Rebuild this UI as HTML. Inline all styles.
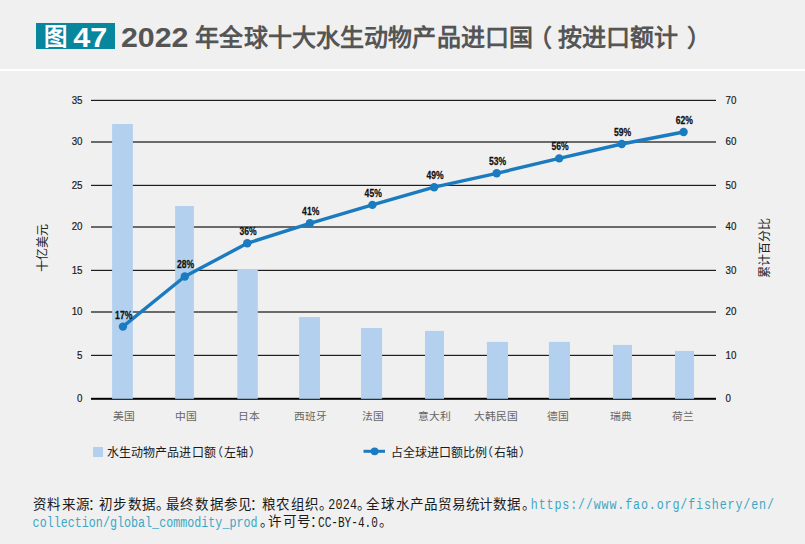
<!DOCTYPE html>
<html lang="zh-CN"><head><meta charset="utf-8"><style>
html,body{margin:0;padding:0;background:#f0f0f0;width:805px;height:544px;overflow:hidden}
svg{display:block;font-family:"Liberation Sans",sans-serif}
</style></head><body>
<svg width="805" height="544" viewBox="0 0 805 544">
<g id="bg">
<rect x="0" y="0" width="805" height="544" fill="#f0f0f0"/>
</g>
<g id="title">
<rect x="36" y="23" width="79" height="26" fill="#07879e"/>
<text x="43.6" y="44.9" font-size="23.4" font-weight="bold" fill="#fff">图</text>
<text x="73.2" y="46.5" font-size="28.5" font-weight="bold" fill="#fff" textLength="34" lengthAdjust="spacingAndGlyphs">47</text>
<text x="121" y="46.9" font-size="27.8" font-weight="bold" fill="#555" textLength="67.5" lengthAdjust="spacingAndGlyphs">2022</text>
<text x="195.30 219.42 243.54 267.66 291.78 315.90 340.02 364.14 388.26 412.38 436.50 460.62 484.74 508.86" y="45.5" font-size="24" font-weight="bold" fill="#555">年全球十大水生动物产品进口国</text>
<text x="528" y="45.5" font-size="24" font-weight="bold" fill="#555">（</text>
<text x="557.70 581.78 605.86 629.94 654.02" y="45.5" font-size="24" font-weight="bold" fill="#555">按进口额计</text>
<text x="687" y="45.5" font-size="24" font-weight="bold" fill="#555">）</text>
<rect x="0" y="69" width="805" height="2" fill="#ffffff"/>
</g>
<g id="grid">
<rect x="91" y="99.80" width="625" height="1.2" fill="#1e1e1e"/>
<rect x="91" y="141.00" width="625" height="2" fill="#6a6a6a"/>
<rect x="91" y="184.80" width="625" height="1.2" fill="#1e1e1e"/>
<rect x="91" y="226.00" width="625" height="2" fill="#6a6a6a"/>
<rect x="91" y="269.80" width="625" height="1.2" fill="#1e1e1e"/>
<rect x="91" y="311.00" width="625" height="2" fill="#6a6a6a"/>
<rect x="91" y="354.80" width="625" height="1.2" fill="#1e1e1e"/>
<rect x="91" y="397.8" width="625" height="2" fill="#000"/>
</g>
<g id="ticks">
<text x="82.5" y="103.6" font-size="11.5" fill="#1a1a1a" stroke="#1a1a1a" stroke-width="0.2" text-anchor="end" transform="translate(82.5 0) scale(0.85 1) translate(-82.5 0)">35</text>
<text x="82.5" y="145.2" font-size="11.5" fill="#1a1a1a" stroke="#1a1a1a" stroke-width="0.2" text-anchor="end" transform="translate(82.5 0) scale(0.85 1) translate(-82.5 0)">30</text>
<text x="82.5" y="188.6" font-size="11.5" fill="#1a1a1a" stroke="#1a1a1a" stroke-width="0.2" text-anchor="end" transform="translate(82.5 0) scale(0.85 1) translate(-82.5 0)">25</text>
<text x="82.5" y="230.2" font-size="11.5" fill="#1a1a1a" stroke="#1a1a1a" stroke-width="0.2" text-anchor="end" transform="translate(82.5 0) scale(0.85 1) translate(-82.5 0)">20</text>
<text x="82.5" y="273.6" font-size="11.5" fill="#1a1a1a" stroke="#1a1a1a" stroke-width="0.2" text-anchor="end" transform="translate(82.5 0) scale(0.85 1) translate(-82.5 0)">15</text>
<text x="82.5" y="315.2" font-size="11.5" fill="#1a1a1a" stroke="#1a1a1a" stroke-width="0.2" text-anchor="end" transform="translate(82.5 0) scale(0.85 1) translate(-82.5 0)">10</text>
<text x="82.5" y="358.6" font-size="11.5" fill="#1a1a1a" stroke="#1a1a1a" stroke-width="0.2" text-anchor="end" transform="translate(82.5 0) scale(0.85 1) translate(-82.5 0)">5</text>
<text x="82.5" y="402.0" font-size="11.5" fill="#1a1a1a" stroke="#1a1a1a" stroke-width="0.2" text-anchor="end" transform="translate(82.5 0) scale(0.85 1) translate(-82.5 0)">0</text>
<text x="725.5" y="103.6" font-size="11.5" fill="#1a1a1a" stroke="#1a1a1a" stroke-width="0.2" transform="translate(725.5 0) scale(0.85 1) translate(-725.5 0)">70</text>
<text x="725.5" y="145.2" font-size="11.5" fill="#1a1a1a" stroke="#1a1a1a" stroke-width="0.2" transform="translate(725.5 0) scale(0.85 1) translate(-725.5 0)">60</text>
<text x="725.5" y="188.6" font-size="11.5" fill="#1a1a1a" stroke="#1a1a1a" stroke-width="0.2" transform="translate(725.5 0) scale(0.85 1) translate(-725.5 0)">50</text>
<text x="725.5" y="230.2" font-size="11.5" fill="#1a1a1a" stroke="#1a1a1a" stroke-width="0.2" transform="translate(725.5 0) scale(0.85 1) translate(-725.5 0)">40</text>
<text x="725.5" y="273.6" font-size="11.5" fill="#1a1a1a" stroke="#1a1a1a" stroke-width="0.2" transform="translate(725.5 0) scale(0.85 1) translate(-725.5 0)">30</text>
<text x="725.5" y="315.2" font-size="11.5" fill="#1a1a1a" stroke="#1a1a1a" stroke-width="0.2" transform="translate(725.5 0) scale(0.85 1) translate(-725.5 0)">20</text>
<text x="725.5" y="358.6" font-size="11.5" fill="#1a1a1a" stroke="#1a1a1a" stroke-width="0.2" transform="translate(725.5 0) scale(0.85 1) translate(-725.5 0)">10</text>
<text x="725.5" y="402.0" font-size="11.5" fill="#1a1a1a" stroke="#1a1a1a" stroke-width="0.2" transform="translate(725.5 0) scale(0.85 1) translate(-725.5 0)">0</text>
</g>
<g id="bars">
<rect x="112.1" y="124" width="20.8" height="274.80" fill="#b3d1ee"/>
<rect x="175.1" y="206.0" width="18.8" height="192.80" fill="#b3d1ee"/>
<rect x="237.3" y="269" width="20.5" height="129.80" fill="#b3d1ee"/>
<rect x="299.1" y="317" width="20.9" height="81.80" fill="#b3d1ee"/>
<rect x="361.0" y="328" width="21.1" height="70.80" fill="#b3d1ee"/>
<rect x="425" y="330.9" width="19.0" height="67.90" fill="#b3d1ee"/>
<rect x="486.9" y="341.9" width="21.1" height="56.90" fill="#b3d1ee"/>
<rect x="548.9" y="341.9" width="21.1" height="56.90" fill="#b3d1ee"/>
<rect x="613" y="344.9" width="19.0" height="53.90" fill="#b3d1ee"/>
<rect x="675" y="350.9" width="19.0" height="47.90" fill="#b3d1ee"/>
</g>
<g id="line">
<polyline points="122.90,326.60 184.80,276.50 247.30,243.30 309.90,223.30 372.40,204.90 434.20,187.20 496.70,173.30 559.20,158.40 621.75,144.00 683.60,132.00" fill="none" stroke="#1a7bbf" stroke-width="3.4" stroke-linejoin="round"/>
<circle cx="122.90" cy="326.60" r="4.2" fill="#1a7bbf"/>
<circle cx="184.80" cy="276.50" r="4.2" fill="#1a7bbf"/>
<circle cx="247.30" cy="243.30" r="4.2" fill="#1a7bbf"/>
<circle cx="309.90" cy="223.30" r="4.2" fill="#1a7bbf"/>
<circle cx="372.40" cy="204.90" r="4.2" fill="#1a7bbf"/>
<circle cx="434.20" cy="187.20" r="4.2" fill="#1a7bbf"/>
<circle cx="496.70" cy="173.30" r="4.2" fill="#1a7bbf"/>
<circle cx="559.20" cy="158.40" r="4.2" fill="#1a7bbf"/>
<circle cx="621.75" cy="144.00" r="4.2" fill="#1a7bbf"/>
<circle cx="683.60" cy="132.00" r="4.2" fill="#1a7bbf"/>
</g>
<g id="pct">
<text x="123.70" y="318.60" font-size="11" font-weight="bold" fill="#111" stroke="#111" stroke-width="0.25" text-anchor="middle" transform="translate(123.70 0) scale(0.78 1) translate(-123.70 0)">17%</text>
<text x="185.60" y="268.50" font-size="11" font-weight="bold" fill="#111" stroke="#111" stroke-width="0.25" text-anchor="middle" transform="translate(185.60 0) scale(0.78 1) translate(-185.60 0)">28%</text>
<text x="248.10" y="235.30" font-size="11" font-weight="bold" fill="#111" stroke="#111" stroke-width="0.25" text-anchor="middle" transform="translate(248.10 0) scale(0.78 1) translate(-248.10 0)">36%</text>
<text x="310.70" y="215.30" font-size="11" font-weight="bold" fill="#111" stroke="#111" stroke-width="0.25" text-anchor="middle" transform="translate(310.70 0) scale(0.78 1) translate(-310.70 0)">41%</text>
<text x="373.20" y="196.90" font-size="11" font-weight="bold" fill="#111" stroke="#111" stroke-width="0.25" text-anchor="middle" transform="translate(373.20 0) scale(0.78 1) translate(-373.20 0)">45%</text>
<text x="435.00" y="179.20" font-size="11" font-weight="bold" fill="#111" stroke="#111" stroke-width="0.25" text-anchor="middle" transform="translate(435.00 0) scale(0.78 1) translate(-435.00 0)">49%</text>
<text x="497.50" y="165.30" font-size="11" font-weight="bold" fill="#111" stroke="#111" stroke-width="0.25" text-anchor="middle" transform="translate(497.50 0) scale(0.78 1) translate(-497.50 0)">53%</text>
<text x="560.00" y="150.40" font-size="11" font-weight="bold" fill="#111" stroke="#111" stroke-width="0.25" text-anchor="middle" transform="translate(560.00 0) scale(0.78 1) translate(-560.00 0)">56%</text>
<text x="622.55" y="136.00" font-size="11" font-weight="bold" fill="#111" stroke="#111" stroke-width="0.25" text-anchor="middle" transform="translate(622.55 0) scale(0.78 1) translate(-622.55 0)">59%</text>
<text x="684.40" y="124.00" font-size="11" font-weight="bold" fill="#111" stroke="#111" stroke-width="0.25" text-anchor="middle" transform="translate(684.40 0) scale(0.78 1) translate(-684.40 0)">62%</text>
</g>
<g id="cats">
<text x="123.50" y="420" font-size="10.75" font-weight="300" fill="#666" text-anchor="middle">美国</text>
<text x="185.90" y="420" font-size="10.75" font-weight="300" fill="#666" text-anchor="middle">中国</text>
<text x="248.50" y="420" font-size="10.75" font-weight="300" fill="#666" text-anchor="middle">日本</text>
<text x="310.20" y="420" font-size="10.75" font-weight="300" fill="#666" text-anchor="middle">西班牙</text>
<text x="372.50" y="420" font-size="10.75" font-weight="300" fill="#666" text-anchor="middle">法国</text>
<text x="434.30" y="420" font-size="10.75" font-weight="300" fill="#666" text-anchor="middle">意大利</text>
<text x="496.20" y="420" font-size="10.75" font-weight="300" fill="#666" text-anchor="middle">大韩民国</text>
<text x="558.10" y="420" font-size="10.75" font-weight="300" fill="#666" text-anchor="middle">德国</text>
<text x="620.50" y="420" font-size="10.75" font-weight="300" fill="#666" text-anchor="middle">瑞典</text>
<text x="682.60" y="420" font-size="10.75" font-weight="300" fill="#666" text-anchor="middle">荷兰</text>
</g>
<g id="axt">
<text x="0" y="0" font-size="12" fill="#222" text-anchor="middle" transform="translate(47 248) rotate(-90)">十亿美元</text>
<text x="0" y="0" font-size="12" fill="#222" text-anchor="middle" transform="translate(769 248) rotate(-90)">累计百分比</text>
</g>
<g id="legend">
<rect x="93" y="447" width="10" height="10" fill="#b3d1ee"/>
<text x="107.30 119.33 131.36 143.39 155.42 167.45 179.48 191.51 203.54" y="456.5" font-size="12" font-weight="500" fill="#1a1a1a">水生动物产品进口额</text>
<text x="211.4" y="456.5" font-size="12" font-weight="500" fill="#1a1a1a">（</text>
<text x="223.70 235.73" y="456.5" font-size="12" font-weight="500" fill="#1a1a1a">左轴</text>
<text x="249.1" y="456.5" font-size="12" font-weight="500" fill="#1a1a1a">）</text>
<line x1="363.5" y1="451.3" x2="385" y2="451.3" stroke="#1a7bbf" stroke-width="3"/>
<circle cx="374.6" cy="451.3" r="3.9" fill="#1a7bbf"/>
<text x="390.60 402.63 414.66 426.69 438.72 450.75 462.78 474.81" y="456.5" font-size="12" font-weight="500" fill="#1a1a1a">占全球进口额比例</text>
<text x="481.4" y="456.5" font-size="12" font-weight="500" fill="#1a1a1a">（</text>
<text x="493.70 505.73" y="456.5" font-size="12" font-weight="500" fill="#1a1a1a">右轴</text>
<text x="519.1" y="456.5" font-size="12" font-weight="500" fill="#1a1a1a">）</text>
</g>
<g id="footer">
<text x="33.0 47.3 61.8 76.3 88.3 98.7 113.2 127.7 142.2 156.3 166.0 180.4 195.0 209.6 224.2 238.0 250.0 261.9 276.0 290.5 304.8 318.5 357.0 366.2 381.0 395.7 409.6 423.8 437.5 451.8 465.5 479.2 493.0 507.3 521.6" y="508.5" font-size="13.5" font-weight="350" fill="#1a1a1a">资料来源：初步数据。最终数据参见：粮农组织。。全球水产品贸易统计数据。</text>
<text transform="translate(328.30 0) scale(0.78 1)" x="0.00 9.23 18.46 27.69" y="509.3" font-size="15" fill="#1a1a1a" font-family="Liberation Mono, monospace">2024</text>
<text transform="translate(530.80 0) scale(0.78 1)" x="0.00 10.09 20.18 30.27 40.36 50.45 60.54 70.63 80.72 90.81 100.90 110.99 121.08 131.17 141.26 151.35 161.44 171.53 181.62 191.71 201.79 211.88 221.97 232.06 242.15 252.24 262.33 272.42 282.51 292.60 302.69" y="509.3" font-size="15" fill="#3ca7c5" font-family="Liberation Mono, monospace">https://www.fao.org/fishery/en/</text>
<text transform="translate(32.60 0) scale(0.78 1)" x="0.00 9.01 18.03 27.04 36.05 45.06 54.08 63.09 72.10 81.12 90.13 99.14 108.15 117.17 126.18 135.19 144.21 153.22 162.23 171.24 180.26 189.27 198.28 207.29 216.31 225.32 234.33 243.35 252.36 261.37 270.38 279.40" y="526.8" font-size="15" fill="#3ca7c5" font-family="Liberation Mono, monospace">collection/global_commodity_prod</text>
<text x="259.8 268.3 283.0 297.3 309.7" y="526.2" font-size="13.5" font-weight="350" fill="#1a1a1a">。许可号：</text>
<text transform="translate(318.00 0) scale(0.74 1)" x="0.00 8.99 17.97 26.96 35.95 44.93 53.92 62.91 71.89" y="526.8" font-size="15" fill="#1a1a1a" font-family="Liberation Mono, monospace">CC-BY-4.0</text>
<text x="378.5" y="526.2" font-size="13.5" font-weight="350" fill="#1a1a1a">。</text>
</g>
</svg>
</body></html>
